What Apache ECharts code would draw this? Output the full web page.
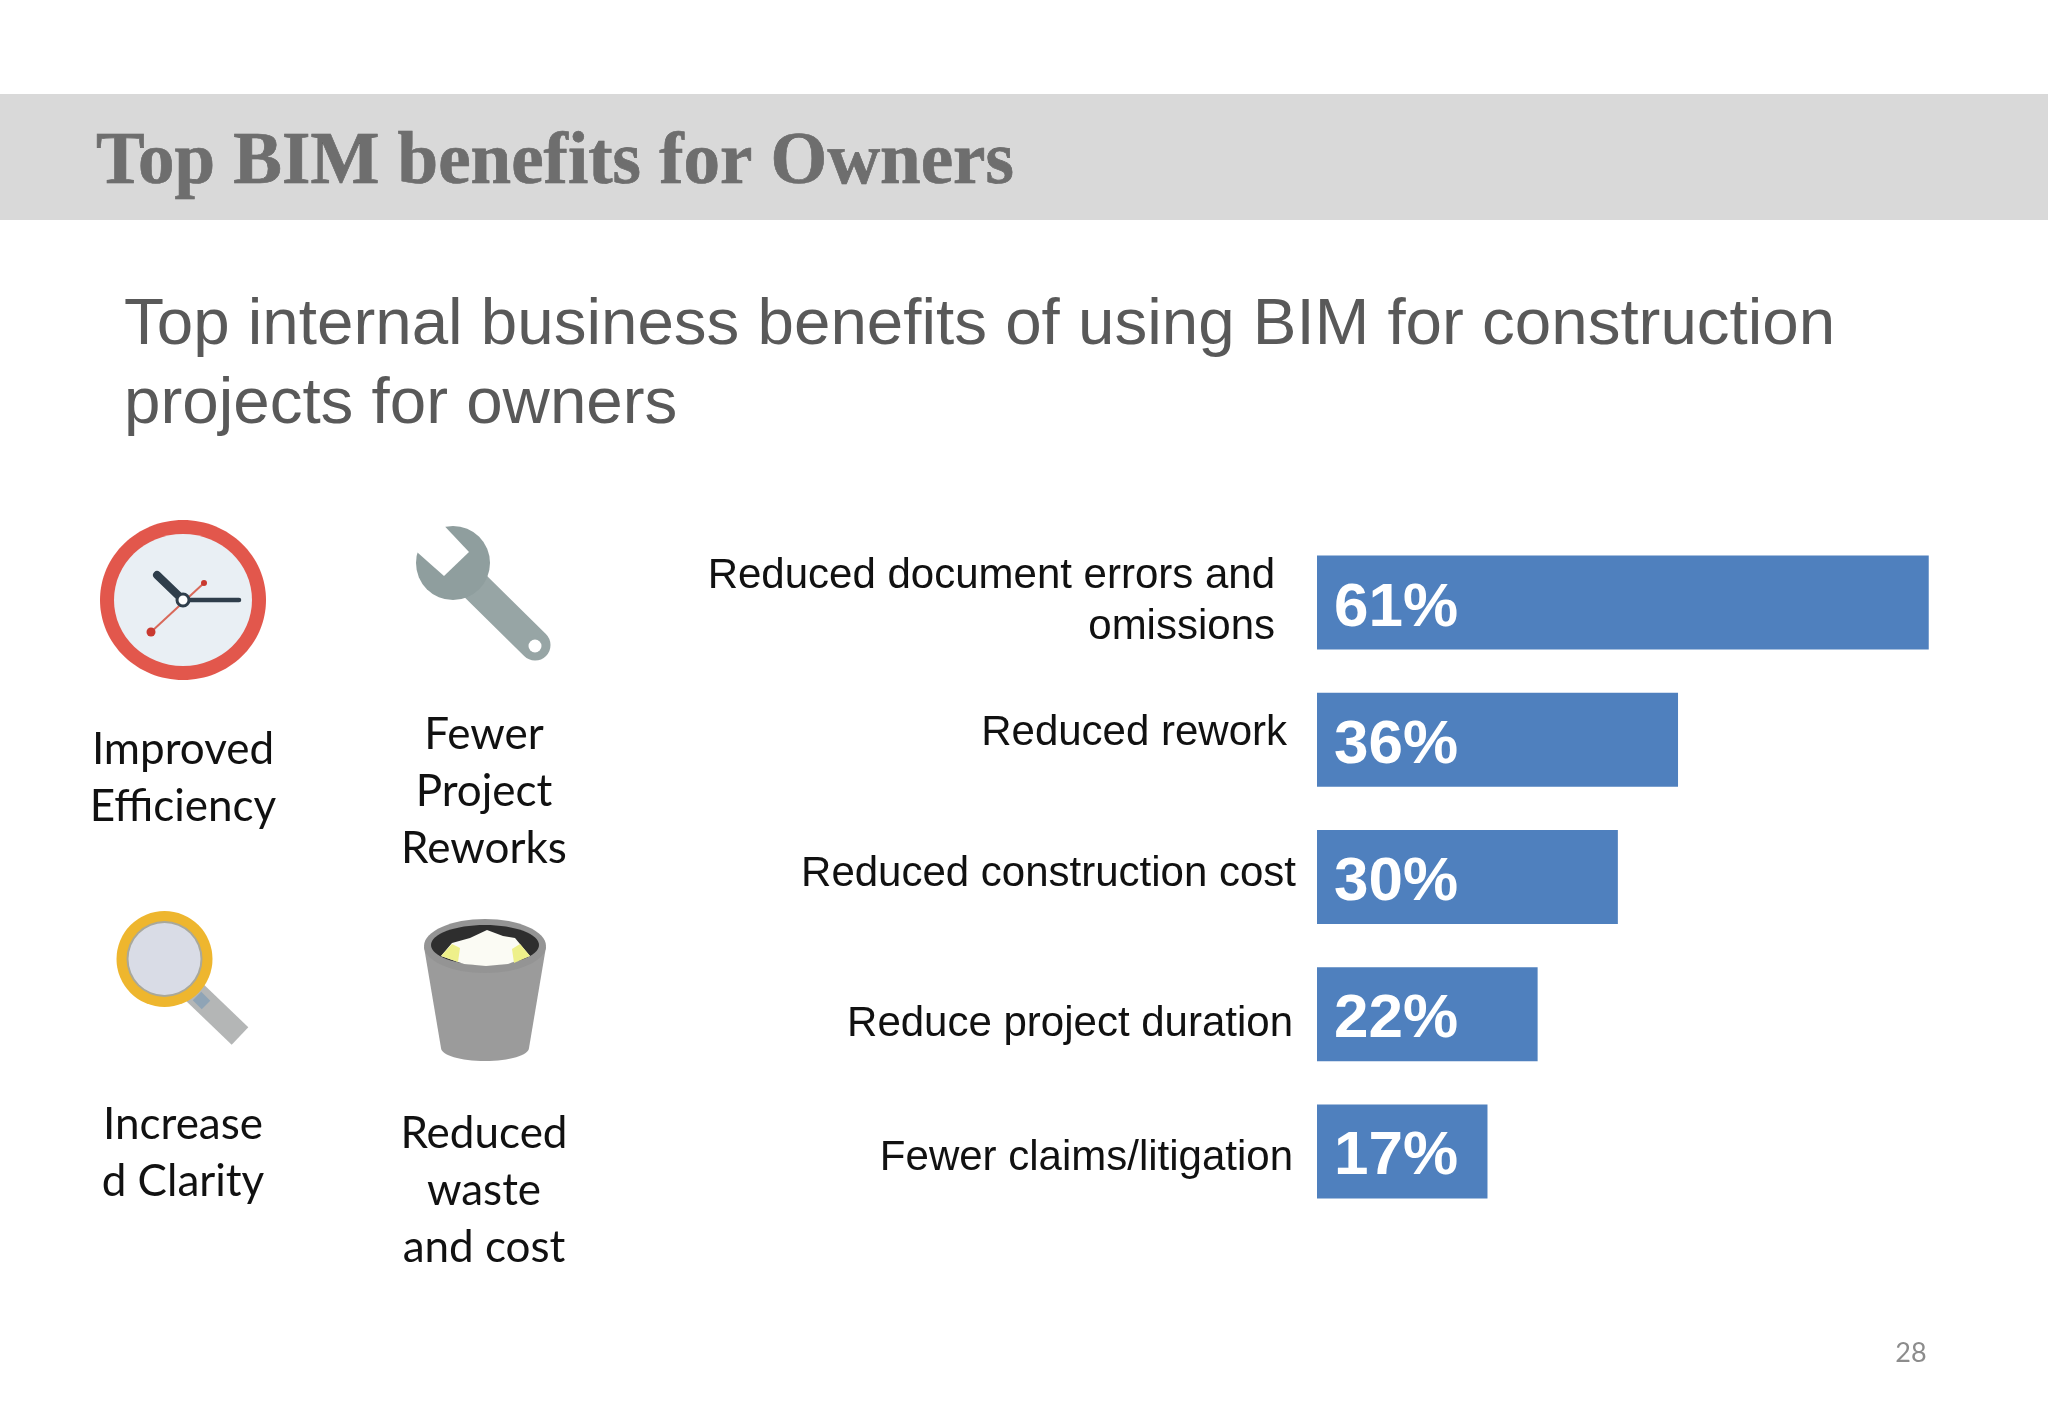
<!DOCTYPE html>
<html>
<head>
<meta charset="utf-8">
<title>Top BIM benefits for Owners</title>
<script src="https://cdn.jsdelivr.net/npm/echarts@6/dist/echarts.min.js"></script>
<style>
html, body { margin: 0; padding: 0; background: #fff; }
#chart { width: 2048px; height: 1418px; }
</style>
</head>
<body>
<div id="chart"></div>
<script>
const categories = ['Reduced document errors and\nomissions', 'Reduced rework', 'Reduced construction cost', 'Reduce project duration', 'Fewer claims/litigation'];
const percents = [61, 36, 30, 22, 17];
const benefitLabels = ['Improved\nEfficiency', 'Fewer\nProject\nReworks', 'Increase\nd Clarity', 'Reduced\nwaste\nand cost'];
const pageNumber = '28';

// labels in the slide do not line up, each one has its own gap and shift
const labelGaps = [42, 30, 21, 24, 24];
const labelShifts = [-1, -6, -3, 10, 7];

const labelFont = 'Liberation Sans';
const sideFont = 'Lato';

const richStyles = {};
categories.forEach((c, i) => {
    richStyles['l' + i] = {
        fontFamily: labelFont,
        fontSize: 42,
        lineHeight: 51,
        color: '#111',
        align: 'right',
        padding: [Math.max(labelShifts[i], 0) * 2, labelGaps[i], Math.max(-labelShifts[i], 0) * 2, 0]
    };
});

function sideText(text, x, y) {
    return {
        type: 'text', x: x, y: y, silent: true,
        style: { text: text, fontFamily: sideFont, fontSize: 44, lineHeight: 57, fill: '#111', align: 'center', verticalAlign: 'top' }
    };
}

function clock() {
    const cx = 183, cy = 600;
    return [
        { type: 'ellipse', shape: { cx: cx, cy: cy, rx: 83, ry: 80 }, style: { fill: '#e2574c' } },
        { type: 'ellipse', shape: { cx: cx, cy: cy, rx: 69, ry: 66 }, style: { fill: '#e9eff4' } },
        { type: 'line', shape: { x1: 151, y1: 632, x2: 204, y2: 583 }, style: { stroke: '#d9695a', lineWidth: 2 } },
        { type: 'circle', shape: { cx: 151, cy: 632, r: 4.5 }, style: { fill: '#c9392f' } },
        { type: 'circle', shape: { cx: 204, cy: 583, r: 3 }, style: { fill: '#c9392f' } },
        { type: 'line', shape: { x1: cx, y1: cy, x2: 157, y2: 575 }, style: { stroke: '#2f3e4b', lineWidth: 8, lineCap: 'round' } },
        { type: 'line', shape: { x1: cx, y1: cy, x2: 239, y2: cy }, style: { stroke: '#2f3e4b', lineWidth: 4.5, lineCap: 'round' } },
        { type: 'circle', shape: { cx: cx, cy: cy, r: 6 }, style: { fill: '#fff', stroke: '#2f3e4b', lineWidth: 3 } }
    ];
}

function wrench() {
    const col = '#97a5a5';
    return [
        { type: 'line', shape: { x1: 464, y1: 575, x2: 535, y2: 645 }, style: { stroke: col, lineWidth: 31, lineCap: 'round' } },
        { type: 'circle', shape: { cx: 453, cy: 563, r: 37 }, style: { fill: '#8f9e9e' } },
        { type: 'polygon', shape: { points: [[436, 517], [409, 545], [444, 576], [469, 552]] }, style: { fill: '#fff' } },
        { type: 'circle', shape: { cx: 535, cy: 646, r: 6.5 }, style: { fill: '#fff' } }
    ];
}

function magnifier() {
    return [
        { type: 'line', shape: { x1: 190, y1: 988, x2: 240, y2: 1036 }, style: { stroke: '#b4b6b6', lineWidth: 24 } },
        { type: 'line', shape: { x1: 197, y1: 996, x2: 206, y2: 1005 }, style: { stroke: '#8fa4b6', lineWidth: 12 } },
        { type: 'circle', shape: { cx: 164.5, cy: 959, r: 48 }, style: { fill: '#eeb62e' } },
        { type: 'circle', shape: { cx: 164.5, cy: 959, r: 38 }, style: { fill: '#a9a89a' } },
        { type: 'circle', shape: { cx: 164.5, cy: 959, r: 36 }, style: { fill: '#d9dce6' } }
    ];
}

function bucket() {
    return [
        { type: 'ellipse', shape: { cx: 485, cy: 1048, rx: 44, ry: 13 }, style: { fill: '#9b9b9b' } },
        { type: 'polygon', shape: { points: [[424, 947], [441, 1048], [529, 1048], [546, 947]] }, style: { fill: '#9b9b9b' } },
        { type: 'ellipse', shape: { cx: 485, cy: 946, rx: 61, ry: 27 }, style: { fill: '#949494' } },
        { type: 'ellipse', shape: { cx: 485, cy: 945, rx: 54, ry: 20 }, style: { fill: '#2e2e2e' } },
        { type: 'polygon', shape: { points: [[441, 956], [452, 943], [470, 938], [487, 930], [503, 936], [515, 938], [530, 956], [508, 964], [486, 966], [464, 964]] }, style: { fill: '#fbfbf4' } },
        { type: 'polygon', shape: { points: [[441, 956], [452, 944], [460, 948], [458, 962]] }, style: { fill: '#eef08a' } },
        { type: 'polygon', shape: { points: [[530, 956], [520, 944], [512, 949], [514, 963]] }, style: { fill: '#eef08a' } }
    ];
}

const option = {
    backgroundColor: '#fff',
    animation: false,
    title: [
        {
            text: 'Top BIM benefits for Owners',
            left: 91, top: 123,
            textStyle: { fontFamily: 'Liberation Serif', fontWeight: 'bold', fontSize: 73, color: '#6e6e6e', textBorderColor: '#5a5a5a', textBorderWidth: 0.6 }
        },
        {
            text: 'Top internal business benefits of using BIM for construction\nprojects for owners',
            left: 119, top: 281,
            textStyle: { fontFamily: 'Liberation Sans', fontWeight: 'normal', fontSize: 65.5, lineHeight: 79, color: '#595959' }
        }
    ],
    grid: { left: 1317, top: 534, width: 702, height: 686 },
    xAxis: { type: 'value', min: 0, max: 70, show: false },
    yAxis: {
        type: 'category',
        inverse: true,
        data: categories,
        axisLine: { show: false },
        axisTick: { show: false },
        axisLabel: {
            margin: 0,
            interval: 0,
            formatter: (value, index) => value.split('\n').map(t => `{l${index}|${t}}`).join('\n'),
            rich: richStyles
        }
    },
    series: [{
        type: 'bar',
        data: percents,
        barWidth: 94,
        itemStyle: { color: '#4f80be' },
        label: {
            show: true,
            position: 'insideLeft',
            distance: 17,
            offset: [0, 6],
            formatter: '{c}%',
            fontFamily: 'Liberation Sans',
            fontWeight: 'bold',
            fontSize: 62,
            color: '#fff'
        }
    }],
    graphic: { elements: [
        { type: 'rect', z: -10, silent: true, shape: { x: 0, y: 94, width: 2048, height: 126 }, style: { fill: '#d9d9d9' } },
        ...clock(), ...wrench(), ...magnifier(), ...bucket(),
        sideText(benefitLabels[0], 183, 721),
        sideText(benefitLabels[1], 484, 706),
        sideText(benefitLabels[2], 183, 1096),
        sideText(benefitLabels[3], 484, 1105),
        { type: 'text', x: 1911, y: 1353, silent: true, style: { text: pageNumber, fontFamily: sideFont, fontSize: 27, fill: '#8c8c8c', align: 'center', verticalAlign: 'middle' } }
    ] }
};

const myChart = echarts.init(document.getElementById('chart'));
myChart.setOption(option);
</script>
</body>
</html>
